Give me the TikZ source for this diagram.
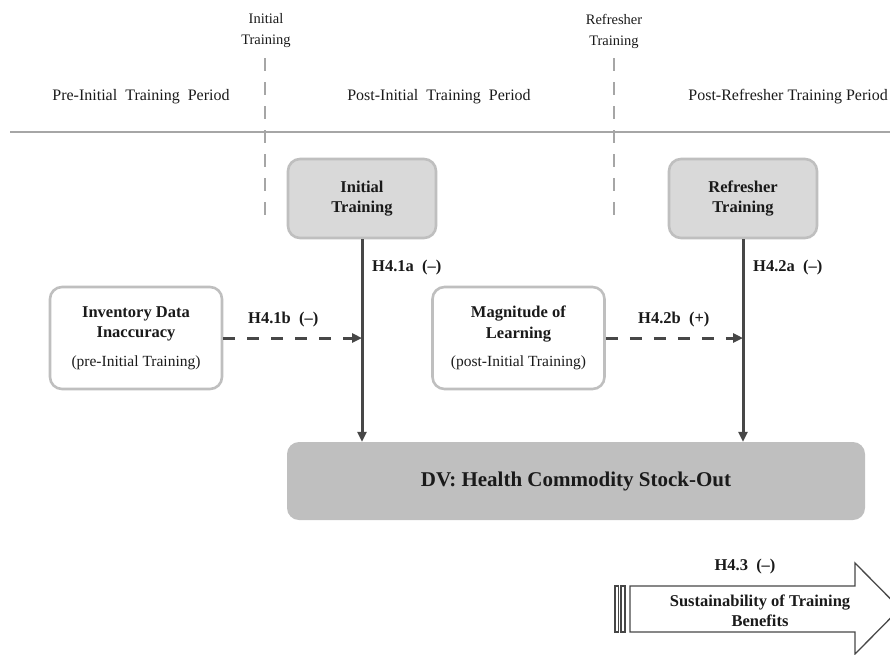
\documentclass[tikz,border=0pt]{standalone}
\usepackage{fontspec}
\setmainfont{Liberation Serif}
\usetikzlibrary{arrows.meta,calc}
\definecolor{rulegray}{HTML}{A6A6A6}
\definecolor{boxline}{HTML}{BFBFBF}
\definecolor{boxfill}{HTML}{D9D9D9}
\definecolor{dvfill}{HTML}{BFBFBF}
\definecolor{arrowgray}{HTML}{474747}
\definecolor{txt}{HTML}{1A1A1A}
\begin{document}
\begin{tikzpicture}[x=1pt,y=-1pt,
  every node/.style={text=txt, font=\fontsize{16}{20}\selectfont},
  boxbase/.style={rounded corners=12pt, line width=2.6pt, draw=boxline, align=center, inner sep=0pt},
  trainbox/.style={boxbase, fill=boxfill, minimum width=148pt, minimum height=79pt, font=\fontsize{16.5}{20.5}\selectfont\bfseries},
  varbox/.style={boxbase, fill=white, minimum width=172pt, minimum height=102pt, font=\fontsize{16.5}{20.5}\selectfont},
  dvbox/.style={rounded corners=12pt, fill=dvfill, draw=none, minimum width=578pt, minimum height=78pt, font=\fontsize{21}{24}\selectfont\bfseries},
  hyp/.style={font=\fontsize{16.5}{20}\selectfont\bfseries, anchor=west, inner sep=0pt},
  periodlbl/.style={font=\fontsize{16}{20}\selectfont, inner sep=0pt},
  eventlbl/.style={font=\fontsize{14.5}{21}\selectfont, align=center, inner sep=0pt},
  timeline/.style={draw=rulegray, line width=2.8pt},
  divider/.style={draw=rulegray, line width=2.6pt, dash pattern=on 13pt off 11pt},
  effect/.style={draw=arrowgray, line width=3pt, -{Triangle[length=10pt,width=9pt]}},
  moderate/.style={effect, dash pattern=on 12pt off 12pt},
  bigarrow/.style={draw=arrowgray, line width=1.3pt, fill=white}
]
\useasboundingbox (0,0) rectangle (890,654);

% time axis and training dividers
\coordinate (axisL) at (10,132);
\coordinate (axisR) at (890,132);
\draw[timeline] (axisL) -- (axisR);
\coordinate (divAtop) at (265,58);
\coordinate (divAbot) at (265,215);
\coordinate (divBtop) at (614,58);
\coordinate (divBbot) at (614,215);
\draw[divider] (divAtop) -- (divAbot);
\draw[divider] (divBtop) -- (divBbot);

\node[eventlbl] (evA) at (266,31) {Initial\\Training};
\node[eventlbl] (evB) at (614,31) {Refresher\\Training};

\node[periodlbl] (perA) at (141,97) {Pre-Initial\ \ Training\ \ Period};
\node[periodlbl] (perB) at (439,97) {Post-Initial\ \ Training\ \ Period};
\node[periodlbl, anchor=east] (perC) at (888,97) {Post-Refresher Training Period};

% model boxes
\node[trainbox] (init) at (362,198.5) {Initial\\Training};
\node[trainbox] (refr) at (743,198.5) {Refresher\\Training};
\node[varbox] (inv) at (136,338) {\textbf{Inventory Data}\\\textbf{Inaccuracy}\\[8pt]{\fontsize{15.5}{20}\selectfont(pre-Initial Training)}};
\node[varbox] (mag) at (518.5,338) {\textbf{Magnitude of}\\\textbf{Learning}\\[8pt]{\fontsize{15.5}{20}\selectfont(post-Initial Training)}};
\node[dvbox] (dv) at (576,481) {DV: Health Commodity Stock-Out};

% effects
\draw[effect] (init.south) -- (init.south |- dv.north);
\draw[effect] (refr.south) -- (refr.south |- dv.north);
\draw[moderate] (inv.east) -- (inv.east -| init.south);
\draw[moderate] (mag.east) -- (mag.east -| refr.south);

\node[hyp] (h41a) at (372,268) {H4.1a\ \ (--)};
\node[hyp] (h42a) at (753,268) {H4.2a\ \ (--)};
\node[hyp] (h41b) at (248,320) {H4.1b\ \ (--)};
\node[hyp] (h42b) at (638,320) {H4.2b\ \ (+)};

% sustainability arrow
\begin{scope}
\clip (0,0) rectangle (890,654);
\draw[bigarrow] (630,586) -- (855,586) -- (855,563) -- (900,608.5) -- (855,654) -- (855,632) -- (630,632) -- cycle;
\end{scope}
\draw[bigarrow] (615,586) rectangle (618.5,632);
\draw[bigarrow] (621,586) rectangle (625,632);
\node[hyp, anchor=center] (h43) at (745,567) {H4.3\ \ (--)};
\node[font=\fontsize{16.5}{20}\selectfont\bfseries, align=center, inner sep=0pt] (sust) at (760,611) {Sustainability of Training\\Benefits};
\end{tikzpicture}
\end{document}
